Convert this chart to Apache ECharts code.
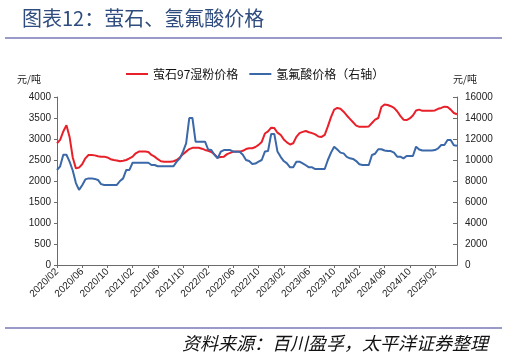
<!DOCTYPE html>
<html>
<head>
<meta charset="utf-8">
<script src="https://cdn.jsdelivr.net/npm/echarts@6/dist/echarts.min.js"></script>
<style>
html,body{margin:0;padding:0;background:#fff;}
#c{width:507px;height:355px;}
</style>
</head>
<body>
<div id="c"></div>
<script>
// half-month sampling, 2020/02 .. 2025/05
var startYear = 2020, startMonth = 2, pointCount = 128;
var categories = [];
for (var k = 0; k < pointCount; k++) {
  var m = startMonth - 1 + Math.floor(k / 2);
  var y = startYear + Math.floor(m / 12);
  var mm = (m % 12) + 1;
  categories.push(y + '/' + (mm < 10 ? '0' + mm : mm) + (k % 2 === 0 ? '/01' : '/16'));
}

var fluoriteSeries = [
  2900,2980,3180,3330,3050,2560,2300,2320,2400,2540,
  2620,2620,2610,2590,2580,2580,2560,2520,2500,2490,
  2470,2480,2500,2540,2580,2660,2700,2700,2700,2690,
  2620,2580,2520,2470,2460,2460,2460,2470,2500,2560,
  2640,2700,2760,2790,2790,2790,2770,2740,2720,2690,
  2630,2560,2570,2580,2640,2670,2700,2700,2700,2720,
  2760,2780,2780,2810,2860,2930,3130,3180,3270,3260,
  3150,3100,2990,2920,2870,2900,3050,3140,3170,3190,
  3160,3140,3110,3060,3050,3100,3300,3520,3700,3740,
  3720,3650,3560,3480,3400,3320,3290,3290,3290,3300,
  3380,3460,3500,3760,3820,3810,3780,3740,3660,3550,
  3460,3450,3490,3560,3680,3700,3670,3670,3670,3670,
  3680,3720,3740,3770,3760,3700,3620,3590
];

var hfSeries = [
  9050,9400,10500,10500,9850,9000,7800,7150,7600,8150,
  8250,8250,8200,8100,7700,7620,7620,7620,7620,7620,
  8000,8250,9050,9050,9740,9740,9740,9740,9740,9740,
  9520,9520,9400,9400,9400,9400,9400,9400,9840,10160,
  10790,11590,14000,14000,11750,11750,11750,11750,11000,10950,
  10500,10160,10790,10950,10950,10950,10790,10790,10790,10500,
  10000,9900,9620,9660,9840,10000,10800,10850,12480,12480,
  10800,10300,9900,9680,9300,9300,9840,9840,9680,9500,
  9300,9300,9140,9140,9140,9140,10000,10700,11270,11000,
  10700,10630,10300,10160,10100,9900,9600,9520,9520,9520,
  10480,10600,11020,11020,10900,10850,10850,10700,10320,10320,
  10160,10380,10380,10380,11270,11000,10900,10900,10900,10900,
  10950,11100,11430,11430,11900,11900,11400,11350
];

var leftTicks = [0, 4000, 500];
var rightTicks = [0, 16000, 2000];

var chart = echarts.init(document.getElementById('c'));
var axisColor = '#6b6b6b';
var labelFont = 'Liberation Sans, Arial, sans-serif';
var cjk = 'Noto Sans CJK SC, sans-serif';
function plain(v) { return String(v); }

chart.setOption({
  animation: false,
  backgroundColor: '#fff',
  title: [{
    text: '图表12：萤石、氢氟酸价格',
    left: 17, top: 3,
    textStyle: {fontFamily: cjk, fontSize: 20, fontWeight: 'normal', color: '#2e4c7e'}
  }, {
    text: '资料来源：百川盈孚，太平洋证券整理',
    right: 14, top: 329,
    textStyle: {fontFamily: cjk, fontSize: 18, fontWeight: 'normal', fontStyle: 'italic', color: '#111'}
  }],
  graphic: [
    {type: 'rect', shape: {x: 5, y: 37, width: 497, height: 2}, style: {fill: '#9a9ac8'}},
    {type: 'rect', shape: {x: 5, y: 327, width: 497, height: 2}, style: {fill: '#9a9ac8'}},
    {type: 'text', left: 17, top: 74, style: {text: '元/吨', font: '10px ' + cjk, fill: '#222'}},
    {type: 'text', left: 453, top: 74, style: {text: '元/吨', font: '10px ' + cjk, fill: '#222'}}
  ],
  legend: {
    left: 126, top: 68, padding: 0,
    itemWidth: 22, itemHeight: 2, itemGap: 11,
    icon: 'rect',
    textStyle: {fontFamily: cjk, fontSize: 12, color: '#111'},
    data: ['萤石97湿粉价格', '氢氟酸价格（右轴）']
  },
  grid: {left: 57, right: 50, top: 97, bottom: 90, containLabel: false},
  xAxis: {
    type: 'category',
    data: categories,
    boundaryGap: false,
    axisLine: {lineStyle: {color: axisColor, width: 1}},
    axisTick: {interval: 7, length: 3, lineStyle: {color: axisColor}},
    axisLabel: {
      interval: 7, rotate: 45, margin: 5,
      fontFamily: labelFont, fontSize: 10, color: '#222',
      formatter: function (v) { return v.slice(0, 7); }
    },
    splitLine: {show: false}
  },
  yAxis: [{
    type: 'value',
    min: leftTicks[0], max: leftTicks[1], interval: leftTicks[2],
    axisLine: {show: true, lineStyle: {color: axisColor}},
    axisTick: {show: true, length: 3, lineStyle: {color: axisColor}},
    axisLabel: {fontFamily: labelFont, fontSize: 10, color: '#222', margin: 6, formatter: plain},
    splitLine: {show: false}
  }, {
    type: 'value',
    min: rightTicks[0], max: rightTicks[1], interval: rightTicks[2],
    axisLine: {show: true, lineStyle: {color: axisColor}},
    axisTick: {show: true, inside: true, length: 4, lineStyle: {color: axisColor}},
    axisLabel: {fontFamily: labelFont, fontSize: 10, color: '#222', margin: 8, formatter: plain},
    splitLine: {show: false}
  }],
  series: [{
    name: '萤石97湿粉价格',
    type: 'line',
    data: fluoriteSeries,
    yAxisIndex: 0,
    symbol: 'none',
    lineStyle: {color: '#e8202a', width: 2},
    itemStyle: {color: '#e8202a'}
  }, {
    name: '氢氟酸价格（右轴）',
    type: 'line',
    data: hfSeries,
    yAxisIndex: 1,
    symbol: 'none',
    lineStyle: {color: '#3a68a8', width: 2},
    itemStyle: {color: '#3a68a8'}
  }]
});
</script>
</body>
</html>
